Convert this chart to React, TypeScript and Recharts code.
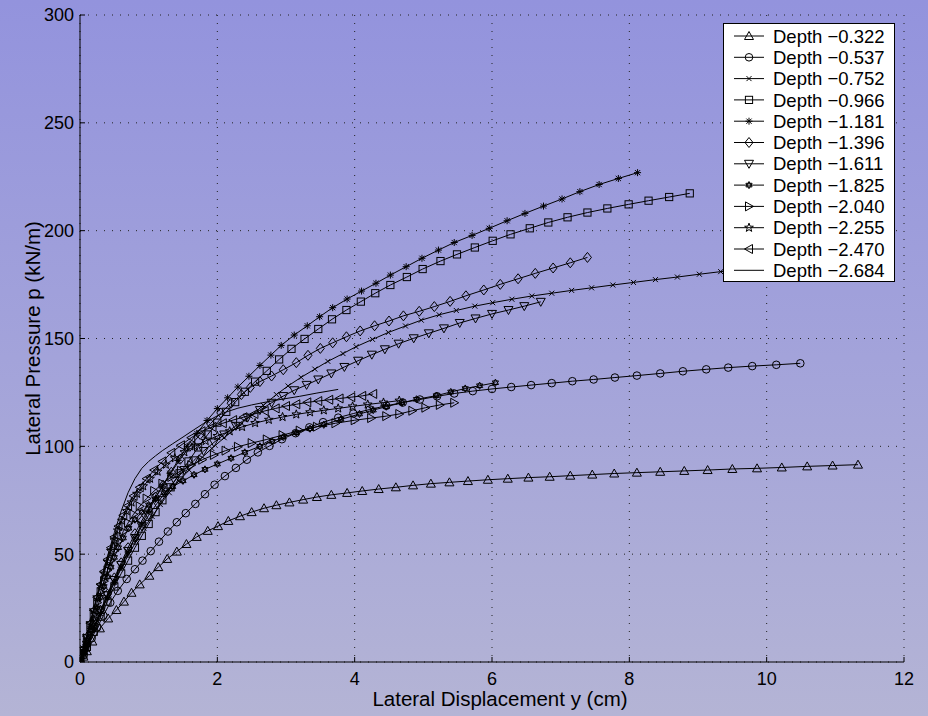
import React from "react";
import { CartesianGrid, Line, LineChart, XAxis, YAxis } from "recharts";

const xTicks = [0, 2, 4, 6, 8, 10, 12];
const yTicks = [0, 50, 100, 150, 200, 250, 300];

const depthLabels = [
  "Depth \u22120.322",
  "Depth \u22120.537",
  "Depth \u22120.752",
  "Depth \u22120.966",
  "Depth \u22121.181",
  "Depth \u22121.396",
  "Depth \u22121.611",
  "Depth \u22121.825",
  "Depth \u22122.040",
  "Depth \u22122.255",
  "Depth \u22122.470",
  "Depth \u22122.684",
];
const markerShapes = ["triUp", "circle", "cross", "square", "asterisk", "diamond", "triDown", "hexagram", "triRight", "pentagram", "triLeft", "none"];

const depth0322 = [[0,0],[0.05,2.5],[0.1,5],[0.18,9.5],[0.29,15.6],[0.41,20.2],[0.53,24.1],[0.64,28],[0.75,32.1],[0.87,36],[1.01,40],[1.14,44],[1.27,47.8],[1.41,51.2],[1.55,54.7],[1.7,58],[1.86,60.8],[2.01,63],[2.16,65.4],[2.33,67.6],[2.5,69.5],[2.68,71.3],[2.86,72.7],[3.05,74],[3.25,75.3],[3.45,76.5],[3.66,77.5],[3.89,78.4],[4.11,79.3],[4.35,80.2],[4.6,81],[4.85,81.9],[5.11,82.7],[5.38,83.3],[5.65,83.9],[5.94,84.5],[6.23,85],[6.53,85.5],[6.84,85.9],[7.14,86.4],[7.46,86.9],[7.78,87.4],[8.11,87.8],[8.45,88.2],[8.8,88.6],[9.14,89],[9.5,89.5],[9.86,89.8],[10.22,90.2],[10.59,90.7],[10.96,91.1],[11.33,91.5]];
const depth0537 = [[0,0],[0.05,3.2],[0.1,6.5],[0.17,11],[0.25,16],[0.34,21.5],[0.44,27.5],[0.55,33],[0.68,38.5],[0.8,43],[0.91,47],[1.03,51.4],[1.15,55.8],[1.28,60.5],[1.41,64.8],[1.54,69],[1.68,73.3],[1.82,77.8],[1.96,82.2],[2.11,86.2],[2.27,90],[2.43,93.8],[2.59,97.2],[2.76,100.2],[2.94,103.3],[3.14,106.1],[3.34,108.8],[3.54,111.2],[3.76,113.3],[3.98,115.2],[4.22,117.1],[4.46,118.8],[4.7,120.3],[4.95,121.7],[5.2,123.2],[5.45,124.5],[5.72,125.6],[6,126.6],[6.28,127.5],[6.57,128.4],[6.87,129.3],[7.17,130.2],[7.48,131],[7.79,131.9],[8.11,132.8],[8.45,133.8],[8.78,134.8],[9.12,135.7],[9.44,136.5],[9.79,137.2],[10.14,137.8],[10.49,138.5]];
const depth0752 = [[0,0],[0.05,4],[0.1,8],[0.17,13],[0.25,19],[0.33,25],[0.42,31.5],[0.51,37.5],[0.61,44],[0.71,50],[0.82,56],[0.93,62],[1.05,67.5],[1.17,73],[1.3,78.5],[1.44,84],[1.59,89],[1.75,94],[1.92,99],[2.1,104],[2.29,109],[2.48,114],[2.67,119],[2.86,124],[3.03,128],[3.22,132],[3.42,135.8],[3.61,139.4],[3.83,143],[4.02,146.2],[4.26,149.6],[4.49,152.8],[4.74,155.8],[4.97,158.5],[5.23,161],[5.48,163],[5.75,165],[6.01,166.6],[6.29,168.2],[6.58,169.7],[6.87,171],[7.16,172.3],[7.45,173.5],[7.76,174.8],[8.06,176],[8.38,177.3],[8.7,178.5],[9.02,179.8],[9.33,181],[9.65,182.1],[9.97,183.2],[10.3,184.2],[10.62,185.2],[10.95,186.1],[11.28,187],[11.6,187.8]];
const depth0966 = [[0,0],[0.05,3.5],[0.1,7],[0.2,14],[0.3,21],[0.4,28],[0.5,35],[0.6,41],[0.7,47],[0.8,53],[0.9,58.5],[1,64],[1.1,69.5],[1.2,75],[1.32,81],[1.45,87.5],[1.58,93],[1.72,99.5],[1.86,105.5],[2,111],[2.13,116],[2.26,120.5],[2.4,125.3],[2.55,130],[2.72,135],[2.9,140.3],[3.08,145.2],[3.27,149.8],[3.47,154.4],[3.67,158.9],[3.88,163.2],[4.09,167.1],[4.3,171],[4.52,174.8],[4.76,178.5],[4.99,182.2],[5.25,185.9],[5.49,189],[5.75,192.2],[6.01,195.3],[6.27,198.3],[6.55,201.1],[6.82,203.8],[7.1,206.2],[7.39,208.4],[7.68,210.3],[7.99,212.2],[8.28,213.9],[8.58,215.6],[8.88,217.3]];
const depth1181 = [[0,0],[0.05,3.8],[0.1,7.5],[0.2,15],[0.3,22.5],[0.4,30],[0.5,37],[0.6,44],[0.7,51],[0.8,57.5],[0.9,64],[1,70],[1.1,76],[1.2,81.5],[1.31,87.5],[1.43,93.5],[1.56,100],[1.7,106],[1.85,112],[2,117.5],[2.15,122.5],[2.3,127.5],[2.46,132.5],[2.62,137.5],[2.78,142.3],[2.93,146.8],[3.12,151.6],[3.31,155.9],[3.49,160.1],[3.68,164.3],[3.89,168.3],[4.1,172],[4.31,175.6],[4.52,179.4],[4.75,183.3],[4.98,187.2],[5.22,191],[5.45,194.5],[5.71,197.8],[5.96,201.1],[6.22,204.6],[6.48,208],[6.75,211.4],[7.02,214.7],[7.28,218.1],[7.56,221.4],[7.84,224.2],[8.12,226.9]];
const depth1396 = [[0,0],[0.05,4],[0.1,8],[0.2,16],[0.3,24],[0.4,31.5],[0.5,39],[0.6,46],[0.7,53],[0.8,59.5],[0.9,65.5],[1,71],[1.1,76.5],[1.21,82],[1.33,88],[1.46,94],[1.6,100],[1.75,105.5],[1.9,110.5],[2.05,115.5],[2.2,120],[2.35,124],[2.48,127.3],[2.62,130],[2.79,132.6],[2.96,135.5],[3.15,138.8],[3.32,142.2],[3.5,145.4],[3.68,148],[3.88,150.8],[4.08,153.5],[4.29,155.9],[4.5,158.1],[4.71,160.5],[4.94,162.6],[5.16,164.8],[5.39,167.2],[5.62,169.8],[5.88,172.5],[6.12,175.1],[6.38,177.7],[6.63,180.2],[6.89,182.7],[7.14,185.1],[7.39,187.6]];
const depth1611 = [[0,0],[0.05,4],[0.1,8],[0.2,16],[0.3,23.5],[0.4,31],[0.5,38],[0.6,45],[0.7,51.5],[0.8,57.5],[0.9,63],[1,68],[1.12,73.5],[1.25,79],[1.38,84],[1.52,89],[1.66,93.5],[1.8,97.8],[1.95,101.8],[2.1,105.5],[2.27,109.5],[2.44,113.3],[2.62,116.8],[2.79,120.2],[2.96,123.3],[3.12,126],[3.3,128.5],[3.47,131],[3.66,133.8],[3.85,136.8],[4.05,139.7],[4.25,142.5],[4.44,145],[4.64,147.6],[4.86,150.1],[5.08,152.4],[5.3,154.7],[5.53,157.2],[5.76,159.3],[6,161.4],[6.24,163.2],[6.47,165],[6.71,167]];
const depth1825 = [[0,0],[0.05,5],[0.1,10],[0.15,15],[0.2,20],[0.25,25],[0.3,30],[0.35,35],[0.4,39.5],[0.45,44],[0.5,48.5],[0.56,53],[0.63,57.5],[0.71,62],[0.8,66],[0.9,69.5],[1,72.8],[1.1,75.6],[1.22,78.5],[1.35,81.3],[1.5,84],[1.66,86.8],[1.82,89.3],[2,91.8],[2.2,94.5],[2.4,97.2],[2.62,100],[2.8,102.3],[2.96,104.3],[3.15,106.3],[3.35,108.2],[3.55,110],[3.8,112.5],[4.07,115],[4.27,116.8],[4.46,118.4],[4.69,120.2],[4.9,121.8],[5.19,123.5],[5.4,125.2],[5.61,126.8],[5.82,128.1],[6.05,129.5]];
const depth2040 = [[0,0],[0.05,5.5],[0.1,11],[0.15,16.5],[0.2,22],[0.25,27.5],[0.3,32.5],[0.35,37.5],[0.4,42.5],[0.45,47],[0.5,51.5],[0.56,56],[0.63,60.5],[0.7,64.5],[0.78,68.5],[0.87,72.2],[0.97,75.8],[1.08,79.3],[1.2,82.7],[1.33,85.8],[1.47,88.7],[1.62,91.3],[1.78,93.8],[1.95,96],[2.12,98],[2.3,99.8],[2.5,101.5],[2.72,103.2],[2.95,105.2],[3.2,107.3],[3.45,109.1],[3.72,110.7],[4,112.1],[4.24,113.1],[4.46,114],[4.65,115],[4.84,116.5],[5.03,117.9],[5.24,119.2],[5.45,120.2]];
const depth2255 = [[0,0],[0.05,6],[0.1,12],[0.15,18],[0.2,24],[0.25,30],[0.3,35.5],[0.35,41],[0.4,46.5],[0.45,51.5],[0.5,56.5],[0.55,61],[0.61,65.5],[0.68,70],[0.75,74],[0.83,78],[0.92,81.5],[1.02,85],[1.13,88.3],[1.25,91.5],[1.38,94.5],[1.52,97.3],[1.67,100],[1.83,102.5],[2,104.8],[2.18,107],[2.36,109],[2.55,110.8],[2.75,112.3],[2.95,113.6],[3.15,114.8],[3.35,115.8],[3.55,116.7],[3.76,117.6],[3.97,118.5],[4.19,119.4],[4.42,120.3],[4.65,121.2]];
const depth2470 = [[0,0],[0.05,6],[0.1,12],[0.15,18],[0.2,24],[0.25,30],[0.3,36],[0.35,42],[0.4,47.5],[0.45,53],[0.5,58],[0.56,63],[0.63,68],[0.7,72.5],[0.78,77],[0.87,81],[0.97,85],[1.08,89],[1.2,93],[1.33,97],[1.47,100.5],[1.62,104],[1.77,107],[1.93,109],[2.08,110.7],[2.23,112.2],[2.38,113.5],[2.54,115],[2.69,116.4],[2.85,117.6],[3,118.7],[3.15,119.5],[3.31,120.4],[3.47,121],[3.63,121.6],[3.78,122.2],[3.95,122.8],[4.11,123.4],[4.27,124.3]];
const depth2684 = [[0,0],[0.1,12.5],[0.2,25],[0.3,37],[0.4,49],[0.5,60],[0.6,70],[0.7,78.5],[0.8,85],[0.9,89.8],[1,93],[1.1,95.6],[1.2,98],[1.35,101.2],[1.5,104.3],[1.65,107.5],[1.8,110.6],[1.95,113.3],[2.1,115.6],[2.3,117.7],[2.5,119.2],[2.72,120.6],[2.95,121.9],[3.2,123.2],[3.45,124.7],[3.76,126.4]];

const allDepths = [depth0322, depth0537, depth0752, depth0966, depth1181, depth1396, depth1611, depth1825, depth2040, depth2255, depth2470, depth2684];
const series = allDepths.map((pts, i) => ({
  name: depthLabels[i],
  shape: markerShapes[i],
  data: pts.map(([x, y]) => ({ x, y })),
}));

const FONT = "'Liberation Sans', Arial, Helvetica, sans-serif";

function Marker({ shape, cx, cy }: { shape: string; cx: number; cy: number }) {
  const p = { fill: "none", stroke: "#000", strokeWidth: 1 };
  const pts = (arr: number[][]) => arr.map(([dx, dy]) => `${cx + dx},${cy + dy}`).join(" ");
  switch (shape) {
    case "triUp":
      return <polygon points={pts([[0, -4.5], [-4.5, 3.5], [4.5, 3.5]])} {...p} />;
    case "triDown":
      return <polygon points={pts([[0, 4.5], [-4.5, -3.5], [4.5, -3.5]])} {...p} />;
    case "triRight":
      return <polygon points={pts([[4.5, 0], [-3.5, -4.5], [-3.5, 4.5]])} {...p} />;
    case "triLeft":
      return <polygon points={pts([[-4.5, 0], [3.5, -4.5], [3.5, 4.5]])} {...p} />;
    case "circle":
      return <circle cx={cx} cy={cy} r={3.8} {...p} />;
    case "square":
      return <rect x={cx - 3.6} y={cy - 3.6} width={7.2} height={7.2} {...p} />;
    case "diamond":
      return <polygon points={pts([[0, -5], [4, 0], [0, 5], [-4, 0]])} {...p} />;
    case "cross":
      return <path d={`M${cx - 2.5},${cy - 2.5}L${cx + 2.5},${cy + 2.5}M${cx - 2.5},${cy + 2.5}L${cx + 2.5},${cy - 2.5}`} {...p} />;
    case "asterisk":
      return <path d={`M${cx - 3.5},${cy}L${cx + 3.5},${cy}M${cx},${cy - 3.5}L${cx},${cy + 3.5}M${cx - 2.6},${cy - 2.6}L${cx + 2.6},${cy + 2.6}M${cx - 2.6},${cy + 2.6}L${cx + 2.6},${cy - 2.6}`} {...p} />;
    case "hexagram":
      return (
        <g>
          <polygon points={pts([[0, -3.6], [-3.1, 1.8], [3.1, 1.8]])} {...p} />
          <polygon points={pts([[0, 3.6], [-3.1, -1.8], [3.1, -1.8]])} {...p} />
        </g>
      );
    case "pentagram": {
      const star: number[][] = [];
      for (let k = 0; k < 10; k++) {
        const r = k % 2 === 0 ? 4.6 : 1.9;
        const a = -Math.PI / 2 + (k * Math.PI) / 5;
        star.push([r * Math.cos(a), r * Math.sin(a)]);
      }
      return <polygon points={pts(star)} {...p} />;
    }
    default:
      return null;
  }
}

const dotFor = (shape: string) => (props: any) => (
  <g key={`${shape}-${props.index}`}>
    <Marker shape={shape} cx={props.cx} cy={props.cy} />
  </g>
);

function LegendBox() {
  const rowH = 21.3;
  return (
    <div
      style={{
        position: "absolute",
        left: 723,
        top: 23,
        width: 172,
        height: 259,
        background: "#fff",
        border: "1px solid #000",
        boxSizing: "border-box",
      }}
    >
      <svg width={170} height={257} style={{ display: "block" }}>
        {series.map((s, i) => {
          const cy = 12 + rowH * i;
          return (
            <g key={s.name}>
              <line x1={10} x2={40} y1={cy} y2={cy} stroke="#000" strokeWidth={1} />
              <Marker shape={s.shape} cx={25} cy={cy} />
              <text x={49} y={cy} dy="0.36em" fontSize={18.5} fontFamily={FONT} fill="#000">
                {s.name}
              </text>
            </g>
          );
        })}
      </svg>
    </div>
  );
}

const axisTitle = (text: string, vertical: boolean) => (props: any) => {
  const vb = props.viewBox;
  if (vertical) {
    const x = vb.x + 33;
    const y = vb.y + vb.height / 2;
    return (
      <text x={x} y={y} transform={`rotate(-90 ${x} ${y})`} textAnchor="middle" dy="0.36em" fontSize={20.5} fontFamily={FONT} fill="#000">
        {text}
      </text>
    );
  }
  const x = vb.x + vb.width / 2 + 8;
  return (
    <text x={x} y={vb.y + 44} textAnchor="middle" fontSize={20.5} fontFamily={FONT} fill="#000">
      {text}
    </text>
  );
};

export default function App() {
  const tickStyle = { fill: "#000", fontSize: 18, fontFamily: FONT };
  return (
    <div
      style={{
        position: "absolute",
        left: 0,
        top: 0,
        width: 928,
        height: 716,
        background: "linear-gradient(180deg, #9393dd 0%, #a3a3da 50%, #b4b4d5 100%)",
        fontFamily: FONT,
      }}
    >
      <LineChart width={928} height={716} margin={{ top: 15, right: 24, bottom: 0, left: 0 }}>
        <CartesianGrid stroke="#222" strokeDasharray="1 7" strokeWidth={1} />
        <XAxis
          dataKey="x"
          type="number"
          domain={[0, 12]}
          ticks={xTicks}
          interval={0}
          height={54}
          allowDataOverflow
          stroke="#000"
          tickSize={-5}
          tickMargin={15}
          tick={tickStyle}
          label={{ content: axisTitle("Lateral Displacement y (cm)", false) }}
        />
        <XAxis xAxisId="top" orientation="top" type="number" domain={[0, 12]} ticks={xTicks} interval={0} height={0} stroke="#000" tickSize={-5} tick={false} />
        <YAxis
          type="number"
          domain={[0, 300]}
          ticks={yTicks}
          interval={0}
          width={80}
          allowDataOverflow
          stroke="#000"
          tickSize={-5}
          tickMargin={11}
          tick={tickStyle}
          label={{ content: axisTitle("Lateral Pressure p (kN/m)", true) }}
        />
        <YAxis yAxisId="right" orientation="right" type="number" domain={[0, 300]} ticks={yTicks} interval={0} width={0} stroke="#000" tickSize={-5} tick={false} />
        {series.map((s) => (
          <Line
            key={s.name}
            data={s.data}
            dataKey="y"
            name={s.name}
            type="linear"
            stroke="#000"
            strokeWidth={1}
            dot={s.shape === "none" ? false : dotFor(s.shape)}
            activeDot={false}
            isAnimationActive={false}
          />
        ))}
      </LineChart>
      <LegendBox />
    </div>
  );
}
